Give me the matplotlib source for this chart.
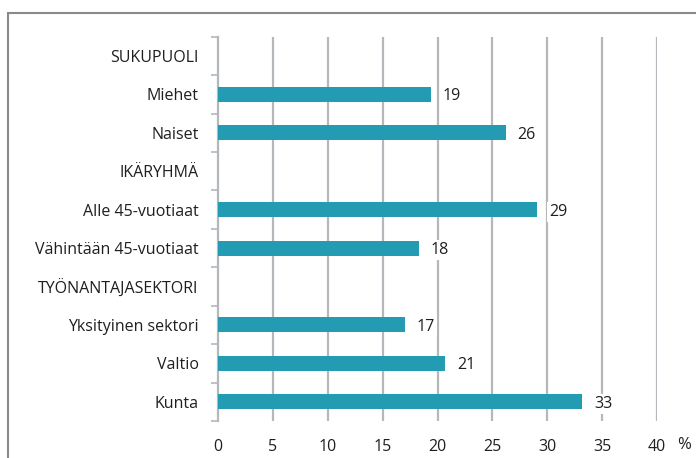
import numpy as np
import matplotlib.pyplot as plt
from matplotlib.patches import Rectangle
from matplotlib.ticker import FixedLocator

categories = ["SUKUPUOLI", "Miehet", "Naiset", "IKÄRYHMÄ", "Alle 45-vuotiaat",
              "Vähintään 45-vuotiaat", "TYÖNANTAJASEKTORI", "Yksityinen sektori",
              "Valtio", "Kunta"]
values = [np.nan, 19.4, 26.2, np.nan, 29.1, 18.3, np.nan, 17.0, 20.7, 33.2]
labels = ["", "19", "26", "", "29", "18", "", "17", "21", "33"]
xticks = [0, 5, 10, 15, 20, 25, 30, 35, 40]

plt.rcParams['font.family'] = ['Open Sans', 'DejaVu Sans']
text_color = '#1f1f1f'
grid_color = '#b4b8bc'
bar_color = '#239bb3'
fs = 11.5

fig = plt.figure(figsize=(6.96, 4.58), dpi=100)
ax = fig.add_axes([218 / 696, 1 - 421 / 458, (657 - 218) / 696, (421 - 36.7) / 458])

y = np.arange(len(categories))
vals = np.nan_to_num(values)
ax.barh(y, vals, height=0.39, color=bar_color, zorder=3)

for yi, v, lab in zip(y, values, labels):
    if lab:
        ax.text(v + 1.1, yi, lab, va='center_baseline', ha='left', fontsize=fs,
                color=text_color, zorder=4,
                bbox=dict(facecolor='white', edgecolor='none', pad=1.5))

ax.set_xlim(0, 40)
ax.set_ylim(len(categories) - 0.5, -0.5)
ax.set_xticks(xticks)
ax.set_yticks(y)
ax.set_yticklabels(categories)
ax.yaxis.set_minor_locator(FixedLocator(np.arange(len(categories) + 1) - 0.5))

ax.tick_params(axis='y', which='major', length=0, pad=14, labelsize=fs, labelcolor=text_color)
ax.tick_params(axis='y', which='minor', length=5, color=grid_color, width=1.2)
ax.tick_params(axis='x', length=0, pad=13, labelsize=fs, labelcolor=text_color)

for x in xticks[1:]:
    ax.axvline(x, color=grid_color, lw=1.6, zorder=1)

for s in ['top', 'right', 'bottom']:
    ax.spines[s].set_visible(False)
ax.spines['left'].set_color(grid_color)
ax.spines['left'].set_linewidth(1.6)

fig.text(684 / 696, 1 - 445 / 458, "%", ha='center', va='center', fontsize=fs + 0.5, color=text_color)

border = Rectangle((8 / 696, -0.1), 1.2, 1 - 13 / 458 + 0.1, transform=fig.transFigure,
                   fill=False, edgecolor='#8a8a8a', lw=1.5)
fig.patches.append(border)

fig.savefig("out.png", dpi=100)
